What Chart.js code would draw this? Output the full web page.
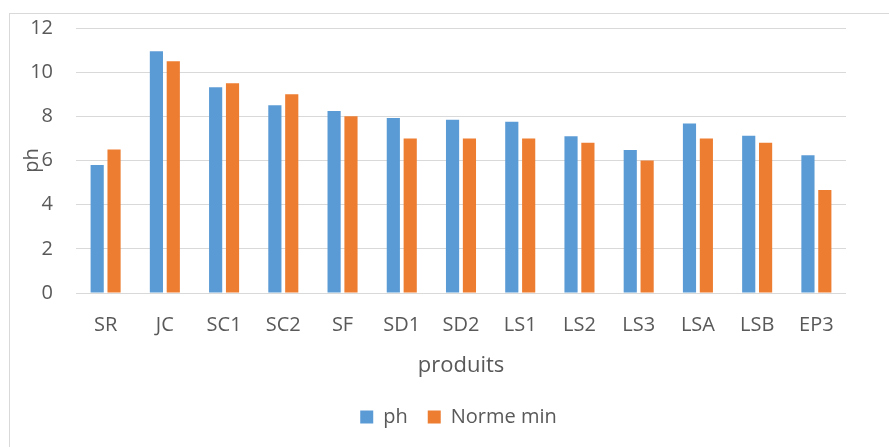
<!DOCTYPE html>
<html>
<head>
<meta charset="utf-8">
<script src="https://cdn.jsdelivr.net/npm/chart.js@4/dist/chart.umd.min.js"></script>
<style>
  html, body { margin: 0; padding: 0; background: #ffffff; overflow: hidden; }
  #wrap { position: relative; width: 889px; height: 447px; }
</style>
</head>
<body>
<div id="wrap"><canvas id="c" width="889" height="447"></canvas></div>
<script>
const categories = ["SR", "JC", "SC1", "SC2", "SF", "SD1", "SD2", "LS1", "LS2", "LS3", "LSA", "LSB", "EP3"];
const phValues = [5.8, 10.95, 9.32, 8.5, 8.24, 7.93, 7.84, 7.76, 7.1, 6.48, 7.68, 7.12, 6.24];
const normeMinValues = [6.5, 10.5, 9.5, 9.0, 8.0, 7.0, 7.0, 7.0, 6.8, 6.0, 7.0, 6.8, 4.66];
const seriesNames = ["ph", "Norme min"];
const yTicks = [0, 2, 4, 6, 8, 10, 12];

const TEXT = '#595959';
const FONT = 'Open Sans';

const frame = {
  id: 'frame',
  beforeDraw(chart) {
    const ctx = chart.ctx;
    ctx.save();
    ctx.fillStyle = '#ffffff';
    ctx.fillRect(0, 0, chart.width, chart.height);
    ctx.strokeStyle = '#D9D9D9';
    ctx.lineWidth = 1;
    ctx.strokeRect(9.5, 13.5, 1000, 1000);
    ctx.restore();
  },
  afterLayout(chart) {
    const lg = chart.legend;
    if (lg) {
      lg.left += 31; lg.right += 31;
      lg.top += 3; lg.bottom += 3;
    }
  }
};

new Chart(document.getElementById('c'), {
  type: 'bar',
  data: {
    labels: categories,
    datasets: [
      { label: seriesNames[0], data: phValues, backgroundColor: '#5B9BD5', categoryPercentage: 0.57, barPercentage: 0.78 },
      { label: seriesNames[1], data: normeMinValues, backgroundColor: '#ED7D31', categoryPercentage: 0.57, barPercentage: 0.78 }
    ]
  },
  options: {
    responsive: false,
    animation: false,
    layout: { padding: { left: 9, top: 28, right: 43, bottom: 13 } },
    plugins: {
      tooltip: { enabled: false },
      legend: {
        position: 'bottom',
        labels: {
          boxWidth: 13, boxHeight: 13, padding: 20,
          color: TEXT, font: { family: FONT, size: 20 }
        }
      }
    },
    scales: {
      x: {
        grid: { display: false, drawTicks: false },
        border: { display: false },
        ticks: { color: TEXT, font: { family: FONT, size: 20 }, padding: 20, maxRotation: 0 },
        title: { display: true, text: 'produits', color: TEXT, font: { family: FONT, size: 22 }, padding: { top: 0, bottom: 5 } },
        afterFit(scale) { scale.height = 91; }
      },
      y: {
        min: 0, max: 12,
        afterBuildTicks(scale) { scale.ticks = yTicks.map(v => ({ value: v })); },
        grid: { color: '#D9D9D9', drawTicks: false, lineWidth: 1 },
        border: { display: false },
        ticks: { color: TEXT, font: { family: FONT, size: 20 }, padding: 23 },
        title: { display: true, text: 'ph', color: TEXT, font: { family: FONT, size: 20 }, padding: { top: 11, bottom: 0 } },
        afterFit(scale) { scale.width = 67; scale.paddingTop = 0; scale.paddingBottom = 0; }
      }
    }
  },
  plugins: [frame]
});
</script>
</body>
</html>
